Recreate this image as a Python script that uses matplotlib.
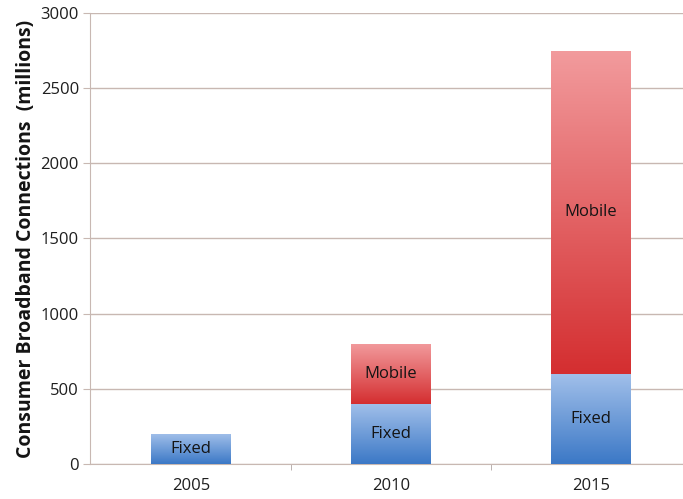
import numpy as np
import matplotlib.pyplot as plt
from matplotlib.colors import LinearSegmentedColormap

years = ['2005', '2010', '2015']
fixed = [200, 400, 600]
mobile = [0, 400, 2150]

plt.rcParams['font.family'] = ['Open Sans', 'DejaVu Sans']

fig = plt.figure(figsize=(6.83, 4.99), dpi=100)
ax = fig.add_axes([0.1318, 0.0701, 0.8682, 0.904])

x = np.arange(len(years))
w = 0.4

blue = LinearSegmentedColormap.from_list('b', ['#3b78c6', '#a2c0ea'])
red = LinearSegmentedColormap.from_list('r', ['#d42e30', '#f29b9d'])
grad = np.linspace(0, 1, 256).reshape(-1, 1)

def shade(patch, cmap):
    x0, y0 = patch.get_x(), patch.get_y()
    x1, y1 = x0 + patch.get_width(), y0 + patch.get_height()
    im = ax.imshow(grad, cmap=cmap, extent=[x0, x1, y0, y1], origin='lower',
                   aspect='auto', zorder=3)
    im.set_clip_path(patch)
    patch.set_facecolor('none')

bf = ax.bar(x, fixed, w, color='none', edgecolor='none', zorder=3)
bm = ax.bar(x, mobile, w, bottom=fixed, color='none', edgecolor='none', zorder=3)
for i, p in enumerate(bf):
    shade(p, blue)
    ax.text(x[i], fixed[i] / 2, 'Fixed', ha='center', va='center', fontsize=12,
            color='#141414', zorder=5)
for i, p in enumerate(bm):
    if mobile[i] > 0:
        shade(p, red)
        ax.text(x[i], fixed[i] + mobile[i] / 2, 'Mobile', ha='center', va='center',
                fontsize=12, color='#141414', zorder=5)

ax.set_xlim(-0.505, 2.46)
ax.set_ylim(0, 3000)
ax.set_yticks(range(0, 3001, 500))
ax.yaxis.grid(True, color='#c8b8b2', linewidth=1)
ax.set_axisbelow(True)

ax.set_xticks(x)
ax.set_xticklabels(years, fontsize=12, color='#1e1e1e')
ax.set_xticks([0.5, 1.5], minor=True)
ax.tick_params(axis='x', which='major', length=0, pad=10)
ax.tick_params(axis='x', which='minor', length=4, color='#b0a5a2')
ax.tick_params(axis='y', length=5, color='#c8b8b2', labelsize=12,
               labelcolor='#1e1e1e', pad=3)

for s in ['top', 'right']:
    ax.spines[s].set_visible(False)
ax.spines['bottom'].set_color('#c8b8b2')
ax.spines['left'].set_color('#c8b8b2')

ax.set_ylabel('Consumer Broadband Connections  (millions)', fontsize=14,
              fontweight='bold', labelpad=3, color='#141414')

fig.savefig('out.png', dpi=100)
